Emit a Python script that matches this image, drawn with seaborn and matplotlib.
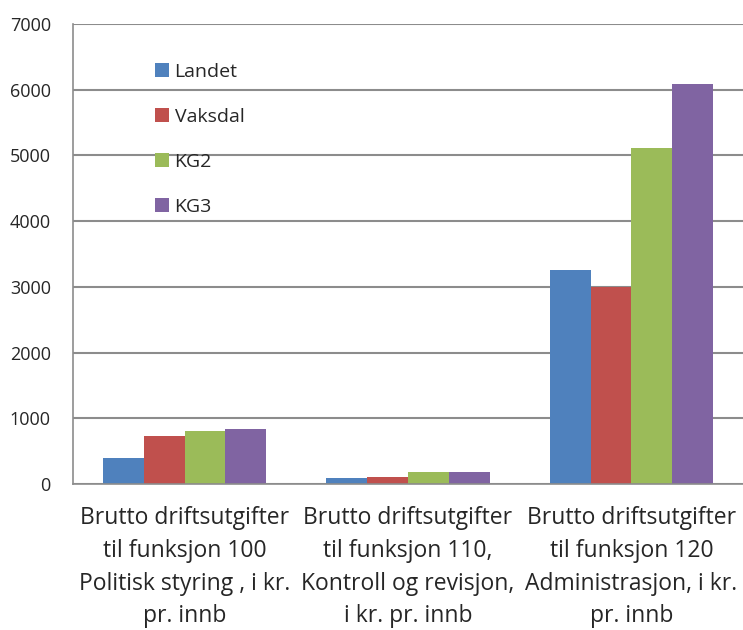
import matplotlib
matplotlib.use("Agg")
import matplotlib.pyplot as plt
import seaborn as sns
import pandas as pd
from matplotlib.ticker import FixedLocator, NullFormatter

categories = [
    "Brutto driftsutgifter\ntil funksjon 100\nPolitisk styring , i kr.\npr. innb",
    "Brutto driftsutgifter\ntil funksjon 110,\nKontroll og revisjon,\ni kr. pr. innb",
    "Brutto driftsutgifter\ntil funksjon 120\nAdministrasjon, i kr.\npr. innb",
]
series = ["Landet", "Vaksdal", "KG2", "KG3"]
landet = [391, 87, 3257]
vaksdal = [726, 107, 3000]
kg2 = [811, 178, 5109]
kg3 = [842, 187, 6091]
colors = ["#4F81BD", "#C0504D", "#9BBB59", "#8064A2"]
yticks = [0, 1000, 2000, 3000, 4000, 5000, 6000, 7000]

rows = []
for name, vals in zip(series, [landet, vaksdal, kg2, kg3]):
    for c, v in zip(categories, vals):
        rows.append({"cat": c, "series": name, "value": v})
df = pd.DataFrame(rows)

sns.set_style("white")
plt.rcParams["font.family"] = ["Open Sans", "DejaVu Sans"]

fig = plt.figure(figsize=(7.43, 6.3), dpi=100)
ax = fig.add_axes([73 / 743, 1 - 484 / 630, 1 - 73 / 743, (484 - 24) / 630])

sns.barplot(data=df, x="cat", y="value", hue="series", order=categories,
            hue_order=series, palette=colors, width=0.73, gap=0,
            saturation=1, ax=ax, legend=True, edgecolor="none")

ax.set_xlim(-0.5, 2.5)
ax.set_ylim(0, 7000)
ax.set_yticks(yticks)
ax.set_yticklabels([str(t) for t in yticks], fontsize=13)
ax.yaxis.grid(True, color="#8c8c8c", linewidth=1.5)
ax.set_axisbelow(True)
ax.set_xlabel("")
ax.set_ylabel("")

ax.set_xticks(range(len(categories)))
ax.set_xticklabels(categories, fontsize=16.5, linespacing=1.48)
ax.xaxis.set_minor_locator(FixedLocator([-0.5, 0.5, 1.5, 2.5]))
ax.xaxis.set_minor_formatter(NullFormatter())
ax.tick_params(axis="x", which="major", length=0, pad=16)
ax.tick_params(axis="x", which="minor", length=6, width=1.2, color="#8c8c8c", direction="out")
ax.tick_params(axis="y", length=6, width=1.2, color="#8c8c8c", direction="out", pad=10)

for s in ["top", "right"]:
    ax.spines[s].set_visible(False)
for s in ["left", "bottom"]:
    ax.spines[s].set_color("#8c8c8c")
    ax.spines[s].set_linewidth(1.2)

leg = ax.legend(loc="upper left", bbox_to_anchor=(0.122, 0.915), frameon=False,
                fontsize=14, labelspacing=1.39, handlelength=0.72, handleheight=0.72,
                handletextpad=0.3, borderpad=0, borderaxespad=0)

fig.savefig("out.png", dpi=100)
